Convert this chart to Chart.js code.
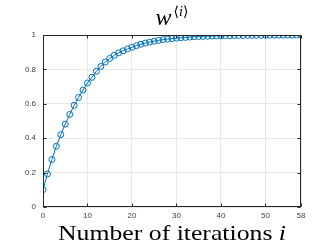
<!DOCTYPE html>
<html>
<head>
<meta charset="utf-8">
<script src="https://cdn.jsdelivr.net/npm/chart.js@4/dist/chart.umd.min.js"></script>
<style>
  html, body { margin: 0; padding: 0; background: #fff; }
  canvas { display: block; }
</style>
</head>
<body>
<canvas id="grafico" width="332" height="249"></canvas>
<script>
// iteration index and weight
const iterations = [0, 1, 2, 3, 4, 5, 6, 7, 8, 9, 10, 11, 12, 13, 14, 15, 16, 17, 18, 19,
  20, 21, 22, 23, 24, 25, 26, 27, 28, 29, 30, 31, 32, 33, 34, 35, 36, 37, 38, 39,
  40, 41, 42, 43, 44, 45, 46, 47, 48, 49, 50, 51, 52, 53, 54, 55, 56, 57, 58];
const weights = [0.101, 0.192, 0.276, 0.353, 0.421, 0.482, 0.538, 0.591, 0.637, 0.680,
  0.721, 0.754, 0.789, 0.817, 0.843, 0.864, 0.882, 0.896, 0.908, 0.919,
  0.929, 0.938, 0.946, 0.953, 0.959, 0.964, 0.969, 0.973, 0.976, 0.979,
  0.982, 0.984, 0.986, 0.988, 0.990, 0.991, 0.992, 0.993, 0.994, 0.995,
  0.995, 0.996, 0.996, 0.997, 0.997, 0.997, 0.998, 0.998, 0.998, 0.998,
  0.999, 0.999, 0.999, 0.999, 0.999, 0.999, 0.999, 1.000, 1.000];
const xTicks = [0, 10, 20, 30, 40, 50, 58];
const yTicks = [0, 0.2, 0.4, 0.6, 0.8, 1];

const axisColor = '#262626';
const serif = '"Liberation Serif", "DejaVu Serif", serif';
const sans = '"Liberation Sans", Arial, sans-serif';

// box around the axes, inward ticks and the LaTeX-like texts
const marco = {
  id: 'marco',
  afterDraw(chart) {
    const { ctx, chartArea: a, scales: { x, y } } = chart;
    ctx.save();
    ctx.strokeStyle = axisColor;
    ctx.lineWidth = 1;
    const L = Math.round(a.left) + 0.5, R = Math.round(a.right) - 0.5;
    const T = Math.round(a.top) + 0.5, B = Math.round(a.bottom) - 0.5;
    ctx.strokeRect(L, T, R - L, B - T);
    ctx.beginPath();
    xTicks.forEach(v => {
      const p = Math.round(x.getPixelForValue(v)) + 0.5;
      ctx.moveTo(p, B); ctx.lineTo(p, B - 3);
      ctx.moveTo(p, T); ctx.lineTo(p, T + 3);
    });
    yTicks.forEach(v => {
      const p = Math.round(y.getPixelForValue(v)) + 0.5;
      ctx.moveTo(L, p); ctx.lineTo(L + 3, p);
      ctx.moveTo(R, p); ctx.lineTo(R - 3, p);
    });
    ctx.stroke();

    const cx = (a.left + a.right) / 2;

    // title w^<i>
    ctx.fillStyle = '#000';
    ctx.textBaseline = 'alphabetic';
    ctx.textAlign = 'left';
    ctx.font = 'italic 24px ' + serif;
    const wW = ctx.measureText('w').width;
    ctx.font = '14px ' + serif;
    const lW = ctx.measureText('⟨').width;
    const rW = ctx.measureText('⟩').width;
    ctx.font = 'italic 14px ' + serif;
    const iW = ctx.measureText('i').width;
    let tx = cx - (wW + lW + iW + rW + 2) / 2;
    ctx.font = 'italic 24px ' + serif;
    ctx.fillText('w', tx, 25);
    tx += wW + 2;
    ctx.font = '14px ' + serif;
    ctx.fillText('⟨', tx, 16);
    tx += lW;
    ctx.font = 'italic 14px ' + serif;
    ctx.fillText('i', tx, 16);
    tx += iW;
    ctx.font = '14px ' + serif;
    ctx.fillText('⟩', tx, 16);

    // x label, stretched a little to get the Computer Modern width
    const parte1 = 'Number of iterations ';
    const sx = 1.17;
    ctx.font = '22px ' + serif;
    const w1 = ctx.measureText(parte1).width;
    ctx.font = 'italic 22px ' + serif;
    const w2 = ctx.measureText('i').width;
    ctx.translate(cx, 240);
    ctx.scale(sx, 1);
    const lx = -(w1 + w2) / 2;
    ctx.font = '22px ' + serif;
    ctx.fillText(parte1, lx, 0);
    ctx.font = 'italic 22px ' + serif;
    ctx.fillText('i', lx + w1, 0);
    ctx.restore();
  }
};

const ctx = document.getElementById('grafico');
new Chart(ctx, {
  type: 'line',
  data: {
    datasets: [{
      data: iterations.map((it, k) => ({ x: it, y: weights[k] })),
      borderColor: '#0072BD',
      borderWidth: 1,
      pointRadius: 3,
      pointBorderWidth: 1,
      pointBorderColor: '#0072BD',
      pointBackgroundColor: 'rgba(0,0,0,0)',
      tension: 0
    }]
  },
  options: {
    responsive: false,
    animation: false,
    layout: { padding: { top: 35, right: 31, bottom: 0, left: 0 } },
    plugins: {
      legend: { display: false },
      tooltip: { enabled: false }
    },
    scales: {
      x: {
        type: 'linear',
        min: 0,
        max: 58,
        afterBuildTicks: s => { s.ticks = xTicks.map(v => ({ value: v })); },
        afterFit: s => { s.height = 42; },
        grid: { color: '#e8e8e8', drawTicks: false },
        border: { display: false },
        ticks: {
          autoSkip: false,
          maxRotation: 0,
          padding: 4,
          color: '#404040',
          font: { family: sans, size: 8 }
        }
      },
      y: {
        min: 0,
        max: 1,
        afterBuildTicks: s => { s.ticks = yTicks.map(v => ({ value: v })); },
        afterFit: s => { s.width = 43; },
        grid: { color: '#e8e8e8', drawTicks: false },
        border: { display: false },
        ticks: {
          padding: 7,
          color: '#404040',
          font: { family: sans, size: 8 },
          callback: v => String(+v.toFixed(1))
        }
      }
    }
  },
  plugins: [marco]
});
</script>
</body>
</html>
